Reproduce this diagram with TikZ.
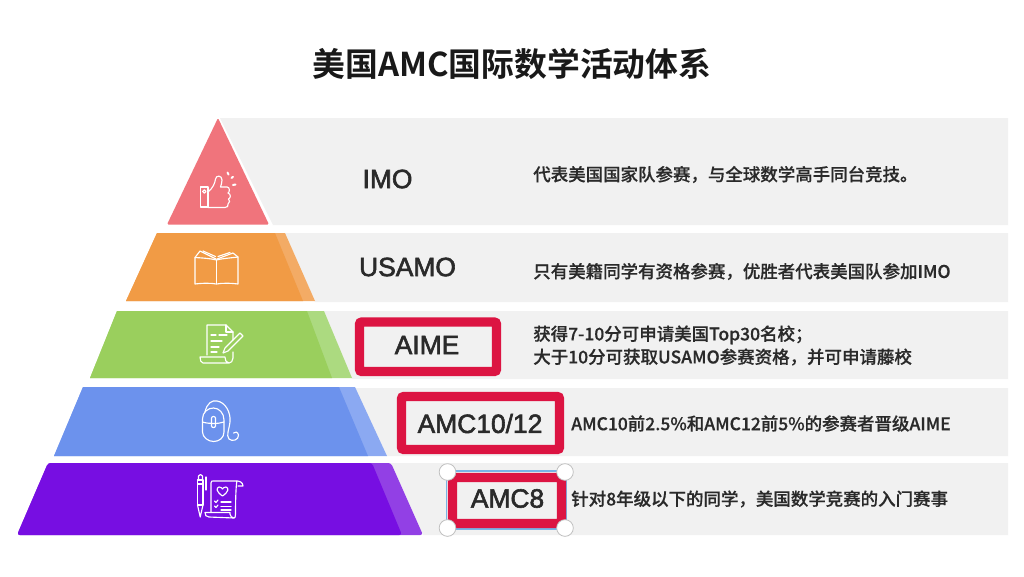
\documentclass[tikz,border=0pt]{standalone}
\usepackage{fontspec}
\setmainfont{Noto Sans CJK SC}[BoldFont=* Bold]
\newfontfamily\cjkm{Noto Sans CJK SC Medium}[FakeBold=0.5]
\newfontfamily\lab{Liberation Sans}[FakeBold=2.2]
\definecolor{band}{HTML}{F1F1F1}
\definecolor{redbox}{HTML}{DC1442}
\definecolor{txt}{HTML}{2A2A2A}
\definecolor{tier1}{RGB}{240,116,124}
\definecolor{tier2}{RGB}{241,155,69}
\definecolor{tier2s}{RGB}{243,171,101}
\definecolor{tier3}{RGB}{154,207,93}
\definecolor{tier3s}{RGB}{172,218,128}
\definecolor{tier4}{RGB}{108,146,237}
\definecolor{tier4s}{RGB}{139,169,242}
\definecolor{tier5}{RGB}{119,14,226}
\definecolor{tier5s}{RGB}{146,64,229}
\definecolor{selblue}{RGB}{120,180,230}
\tikzset{
  lbl/.style={inner sep=0pt,text=txt,font=\lab\fontsize{19.8}{22}\selectfont},
  desc/.style={inner sep=0pt,anchor=west,text=txt,align=left,font=\cjkm\fontsize{13.1}{17.3}\selectfont},
  redb/.style={draw=redbox,line width=6.8pt,rounded corners=1.5pt,fill=band},
  ic/.style={draw=white,line width=0.85pt,line cap=round,line join=round,fill=none},
  handle/.style={circle,draw=black!25,fill=white,line width=0.6pt,minimum size=12.5pt,inner sep=0pt}
}
\begin{document}
\begin{tikzpicture}[x=0.75pt,y=-0.75pt]
\useasboundingbox (0,0) rectangle (1024,576);
\fill[white] (0,0) rectangle (1024,576);
% bands
\fill[band] (220,118) -- (1008,118) -- (1008,225) -- (273,225) -- cycle;
\fill[band] (285,233) -- (1008,233) -- (1008,302) -- (315,302) -- cycle;
\fill[band] (324,311) -- (1008,311) -- (1008,379) -- (352,379) -- cycle;
\fill[band] (355,388) -- (1008,388) -- (1008,456) -- (387,456) -- cycle;
\fill[band] (391,463) -- (1008,463) -- (1008,535) -- (423,535) -- cycle;
% pyramid
\fill[tier1,rounded corners=1pt] (218,118) -- (269,224.5) -- (167,224.5) -- cycle;
\fill[tier2s] (157,233) -- (285,233) -- (315,301) -- (126,301) -- cycle;
\fill[tier2] (157,233) -- (275,233) -- (303,301) -- (126,301) -- cycle;
\fill[tier3s] (117,311) -- (324,311) -- (352,378) -- (90,378) -- cycle;
\fill[tier3] (117,311) -- (307,311) -- (332,378) -- (90,378) -- cycle;
\fill[tier4s] (83,387) -- (355,387) -- (387,456) -- (54,456) -- cycle;
\fill[tier4] (83,387) -- (339,387) -- (368,456) -- (54,456) -- cycle;
\fill[tier5s,rounded corners=2pt] (48,463) -- (391,463) -- (423,535) -- (17,535) -- cycle;
\fill[tier5,rounded corners=2pt] (48,463) -- (372,463) -- (402,535) -- (17,535) -- cycle;
% thumb icon
\draw[ic] (200.5,187) rectangle (208,207);
\draw[ic] (204.3,191.5) circle (1.7);
\draw[ic] (208,192) .. controls (213,188) and (215,183) .. (215.5,179) .. controls (216,175) and (222,175) .. (222,180) .. controls (222,183) and (221,185) .. (220.5,187) -- (227,187) .. controls (230,187) and (230,192) .. (228,193) .. controls (231,194) and (231,198) .. (228.5,199) .. controls (230,200) and (230,203) .. (228,204) .. controls (229,206) and (227,207.5) .. (225,207.5) -- (208,207.5);
\draw[white,line width=1.5pt,line cap=round] (227.5,172.5) -- (228.5,174.5) (231.5,178) -- (233,176.8) (233,185) -- (235.5,184.5);
% book icon
\draw[ic] (216.5,260) -- (216.5,283.5);
\draw[ic] (195,257.5) .. controls (203,258) and (211,258.5) .. (216.5,260) .. controls (222,258.5) and (230,258) .. (238,257) -- (238,284) .. controls (230,283) and (222,283) .. (216.5,284) .. controls (211,283) and (203,283) .. (195,284) -- cycle;
\draw[ic] (195,257.5) -- (200,251) -- (216,259);
\draw[ic] (217,259) -- (233,253) -- (238,257);
\draw[ic] (203,251) -- (215.5,256.5);
\draw[ic] (218,256.5) -- (230,252.5);
% doc icon
\draw[ic] (207,355) -- (207,325) -- (226,325) -- (233,332) -- (233,340);
\draw[ic] (226,325) -- (226,332) -- (233,332);
\draw[ic] (233,352) -- (233,358) .. controls (233,361) and (231,363) .. (229,363) -- (203,363) .. controls (201,363) and (200,360) .. (200,357) -- (225,357) .. controls (225,360) and (226,363) .. (229,363);
\draw[ic] (211,335) -- (216,335) (219,335) -- (227,335) (211,341) -- (222,341) (211,347) -- (219,347) (211,352) -- (217,352);
\draw[ic] (240,333) -- (243,336) -- (228,351) -- (223,353) -- (225,348) -- cycle;
% mouse icon
\draw[ic] (202.5,419) .. controls (202.5,412) and (208,408) .. (213.5,408) .. controls (219,408) and (224,413) .. (224,420) -- (224,432) .. controls (224,438) and (219,441.5) .. (213.5,441.5) .. controls (208,441.5) and (202.5,437) .. (202.5,432) -- cycle;
\draw[ic] (202.5,422) .. controls (209,424) and (218,424) .. (224,422);
\draw[ic] (211.5,418) .. controls (211.5,416) and (215.5,416) .. (215.5,418) -- (215.5,426) .. controls (215.5,428) and (211.5,428) .. (211.5,426) -- cycle;
\draw[ic] (205,412) .. controls (207,403) and (212,400) .. (217,401) .. controls (225,402) and (231,412) .. (230,422) .. controls (229,430) and (226,435) .. (229,439) .. controls (232,442) and (239,440) .. (238.5,435) .. controls (238,432) and (235,431) .. (233.5,433);
% scroll icon
\draw[ic] (197.5,480) rectangle (203,505);
\draw[ic] (197.5,505) -- (200.2,517) -- (203,505);
\draw[ic] (198.5,480) -- (198.5,476) .. controls (199,474) and (202,474) .. (202.5,476) -- (202.5,480);
\draw[ic] (197.5,484) -- (203,484);
\draw[ic] (206,477) -- (206,490);
\draw[ic] (209,517) .. controls (206,517) and (205,515) .. (205,512.5) -- (230,512.5) -- (230,514) .. controls (230,516) and (232,518) .. (234,518) -- (209,517);
\draw[ic] (211,512) -- (211,483) .. controls (211,481) and (212,481) .. (213,481) -- (237,481) .. controls (236,484) and (235.5,500) .. (235.5,514) .. controls (235.5,517) and (235,518) .. (234,518);
\draw[ic] (237,481) .. controls (239,481) and (243,482) .. (243,486) -- (238,486);
\draw[ic] (222.5,496) .. controls (216,491.5) and (216,488) .. (219,487) .. controls (221,487) and (222,488) .. (222.5,489) .. controls (223,488) and (224,487) .. (226,487) .. controls (229,488) and (229,491.5) .. (222.5,496);
\draw[ic] (221,502) -- (231,502) (221,506.5) -- (231,506.5) (221,510) -- (231,510);
\draw[ic] (214.5,501) -- (216,502.5) -- (218,500) (214.5,506) -- (216,507.5) -- (218,505);
% title
\node[inner sep=0pt,font=\bfseries\fontsize{24.6}{28}\selectfont,text=black!90] (title) at (512,64) {美国AMC国际数学活动体系};
% red boxes
\draw[selblue,line width=0.8pt] (446.5,471) rectangle (566.5,529);
\draw[redb] (359.5,322) rectangle (496.5,371.5);
\draw[redb] (401.5,396.5) rectangle (559.5,449.5);
\draw[redb] (452.5,477.5) rectangle (561.5,523.5);
\node[handle] (h1) at (447.5,472) {};
\node[handle] (h2) at (565,472) {};
\node[handle] (h3) at (447.5,528) {};
\node[handle] (h4) at (565,528) {};
% labels
\node[lbl] (l1) at (387.5,179) {IMO};
\node[lbl] (l2) at (407.5,267) {USAMO};
\node[lbl] (l3) at (427,345) {AIME};
\node[lbl] (l4) at (480,423.5) {AMC10/12};
\node[lbl] (l5) at (507.5,498.5) {AMC8};
% descriptions
\node[desc] (d1) at (533,174.5) {代表美国国家队参赛，与全球数学高手同台竞技。};
\node[desc] (d2) at (533,271.5) {只有美籍同学有资格参赛，优胜者代表美国队参加IMO};
\node[desc] (d3) at (533,345.5) {获得7-10分可申请美国Top30名校；\\大于10分可获取USAMO参赛资格，并可申请藤校};
\node[desc] (d4) at (571,423.5) {AMC10前2.5\%和AMC12前5\%的参赛者晋级AIME};
\node[desc] (d5) at (571,499) {针对8年级以下的同学，美国数学竞赛的入门赛事};
\end{tikzpicture}
\end{document}
